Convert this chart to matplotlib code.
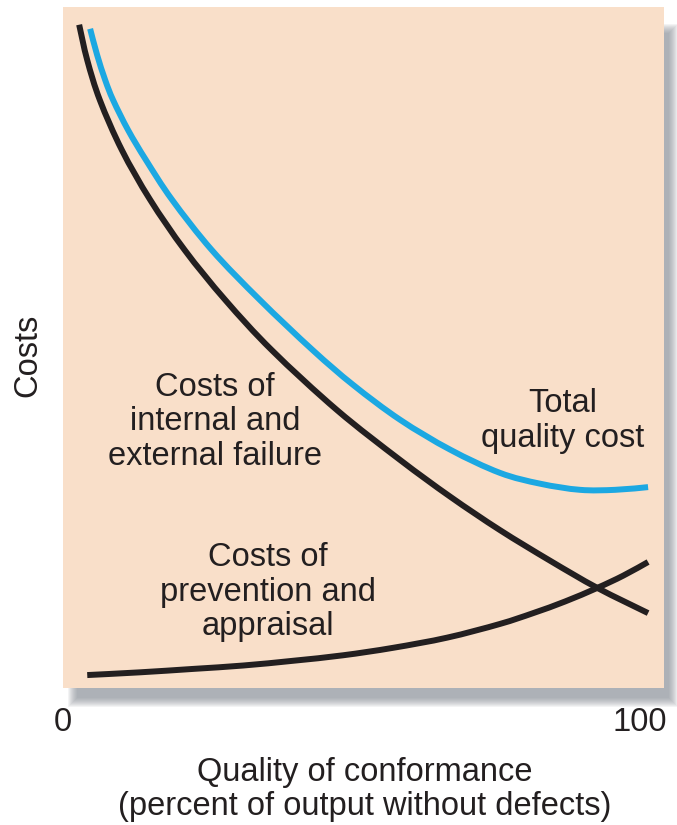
import matplotlib
matplotlib.use("Agg")
import matplotlib.pyplot as plt
from matplotlib.patches import Rectangle, PathPatch
from matplotlib.path import Path

# Quality of conformance (%) and cost levels (arbitrary units) for each curve
failure_x = [2.8, 4.2, 6.4, 10.2, 15.1, 21.1, 28.1, 36.2, 47.5, 58.4, 67.1, 75.7, 84.4, 92.6, 101.4]
failure_y = [97.4, 92.2, 86.3, 79.0, 71.7, 64.3, 57.0, 49.6, 40.8, 33.5, 28.1, 23.2, 18.7, 14.7, 11.0]

total_x = [4.7, 5.9, 7.3, 8.7, 11.3, 14.4, 18.9, 25.8, 34.1, 43.3, 50.3, 58.4, 67.1, 75.7, 82.7, 89.6, 95.7, 101.4]
total_y = [96.8, 93.0, 89.3, 86.3, 81.9, 77.5, 71.7, 64.3, 57.0, 49.6, 44.5, 39.4, 35.0, 31.6, 30.0, 29.1, 29.1, 29.5]

prevention_x = [4.2, 13.3, 22.5, 31.2, 39.9, 48.5, 57.2, 66.6, 75.7, 81.5, 87.0, 92.6, 97.1, 101.4]
prevention_y = [1.9, 2.3, 2.8, 3.3, 4.0, 4.8, 5.9, 7.4, 9.4, 11.0, 12.7, 14.7, 16.5, 18.5]

x_ticks = [0, 100]
x_tick_labels = ["0", "100"]

W, H = 677, 825
PANEL = "#F9DFC9"
INK = "#231F20"
BLUE = "#1CA8E2"

plt.rcParams["font.family"] = ["Liberation Sans", "DejaVu Sans"]


def smooth_path(xs, ys):
    """Cubic Bezier path (Catmull-Rom style) passing through every given point."""
    pts = list(zip(xs, ys))
    verts = [pts[0]]
    codes = [Path.MOVETO]
    n = len(pts)
    for i in range(n - 1):
        p0 = pts[i - 1] if i > 0 else pts[i]
        p1 = pts[i]
        p2 = pts[i + 1]
        p3 = pts[i + 2] if i + 2 < n else pts[i + 1]
        c1 = (p1[0] + (p2[0] - p0[0]) / 6, p1[1] + (p2[1] - p0[1]) / 6)
        c2 = (p2[0] - (p3[0] - p1[0]) / 6, p2[1] - (p3[1] - p1[1]) / 6)
        verts += [c1, c2, p2]
        codes += [Path.CURVE4] * 3
    return Path(verts, codes)


fig = plt.figure(figsize=(W / 100, H / 100), dpi=100)
fig.patch.set_facecolor("white")

left, top, right, bottom = 63, 7, 664, 688
ax = fig.add_axes([left / W, 1 - bottom / H, (right - left) / W, (bottom - top) / H])

# soft drop shadow behind the panel
for k in range(10):
    grow = 9 - k
    sx0, sy0 = left + 14 - grow, top + 26 - grow
    sx1, sy1 = right + 5 + grow, bottom + 10 + grow
    fig.patches.append(Rectangle((sx0 / W, 1 - sy1 / H), (sx1 - sx0) / W, (sy1 - sy0) / H,
                                 transform=fig.transFigure, facecolor="#7F858F",
                                 edgecolor="none", alpha=0.09, zorder=0))

ax.set_facecolor(PANEL)
ax.set_zorder(2)
for s in ax.spines.values():
    s.set_visible(False)

lw = 4.3
for xs, ys, col in [(prevention_x, prevention_y, INK),
                    (failure_x, failure_y, INK),
                    (total_x, total_y, BLUE)]:
    ax.add_patch(PathPatch(smooth_path(xs, ys), fill=False, edgecolor=col, lw=lw,
                           capstyle="butt", joinstyle="round"))

ax.set_xlim(0, (right - left) / 5.77)
ax.set_ylim(0, 100)
ax.set_yticks([])
ax.set_xticks(x_ticks)
ax.set_xticklabels(x_tick_labels, fontsize=23.5, color=INK)
ax.tick_params(axis="x", length=0, pad=14)

fs = 23.5


def px(xp, yp):
    return xp / W, 1 - yp / H


fig.text(*px(215, 422), "Costs of\ninternal and\nexternal failure", ha="center", va="center",
         fontsize=fs, color=INK, linespacing=1.15, zorder=5)
fig.text(*px(563, 421), "Total\nquality cost", ha="center", va="center",
         fontsize=fs, color=INK, linespacing=1.15, zorder=5)
fig.text(*px(268, 592), "Costs of\nprevention and\nappraisal", ha="center", va="center",
         fontsize=fs, color=INK, linespacing=1.15, zorder=5)

fig.text(*px(28, 355), "Costs", rotation=90, ha="center", va="center", fontsize=fs, color=INK)
fig.text(*px(365, 772), "Quality of conformance", ha="center", va="center", fontsize=fs, color=INK)
fig.text(*px(365, 806), "(percent of output without defects)", ha="center", va="center",
         fontsize=fs, color=INK)

fig.savefig("out.png", dpi=100, facecolor="white")
